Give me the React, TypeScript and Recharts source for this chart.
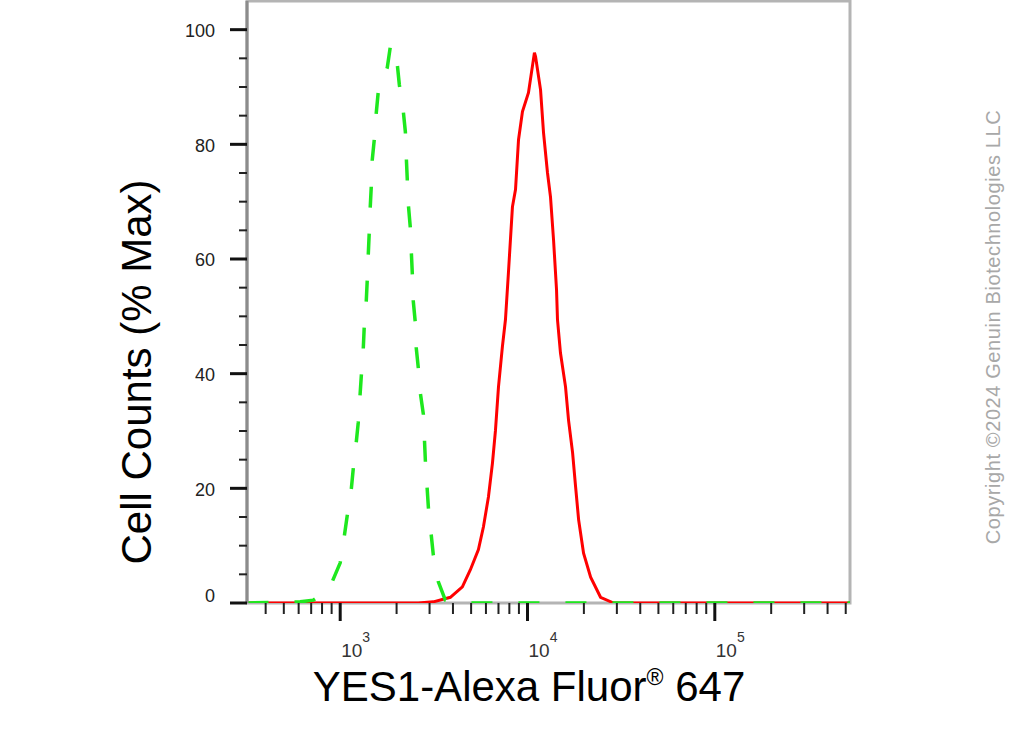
import React from "react";
import { LineChart, Line, XAxis, YAxis, ReferenceArea } from "recharts";

// isotype control (green dashed)
const isotypeFL = [
  320, 611, 718, 832, 906, 1000, 1050, 1090, 1145, 1174, 1218, 1248, 1295, 1328, 1343,
  1377, 1394, 1412, 1429, 1446, 1465, 1483, 1520, 1558, 1597, 1784, 1850, 1897, 2018, 2069,
  2173, 2228, 2254, 2280, 2311, 2366, 2400, 2427, 2455, 2518, 2547, 2612, 2679, 2780, 2851,
  2958, 3141, 3342, 3641, 4121, 10000, 100000, 527000
];
const isotypeCount = [
  0, 0.2, 0.5, 1.9, 3.7, 7.0, 11.5, 15.2, 19.7, 23.4, 28.0, 31.4, 39.4, 44.3, 48.0,
  52.5, 56.2, 60.7, 64.6, 68.9, 72.6, 77.3, 80.8, 85.5, 89.2, 93.4, 96.9, 97.4, 93.9, 90.4,
  85.7, 82.2, 77.7, 74.0, 69.5, 65.6, 60.9, 57.4, 52.7, 48.9, 44.5, 41.0, 36.6, 32.9, 24.6,
  16.6, 8.4, 3.7, 0.5, 0, 0, 0, 0
];

// YES1 stained (red solid)
const stainedFL = [
  320, 2612, 3142, 3874, 4490, 4955, 5470, 5819, 6186, 6500, 6745, 7000, 7345, 7625, 7910,
  8310, 8630, 8955, 9400, 10120, 10890, 11040, 11740, 12180, 12790, 13270, 13770, 14290, 14460,
  15000, 15960, 16560, 17410, 18070, 18750, 19920, 21730, 24550, 28840, 527000
];
const stainedCount = [
  0, 0, 0.2, 1.0, 2.8, 5.8, 9.3, 13.3, 18.5, 24.4, 30.1, 37.7, 44.7, 49.4, 57.6,
  69.1, 72.1, 80.8, 85.7, 89.0, 96.0, 95.3, 89.5, 82.0, 75.0, 70.8, 63.4, 54.6, 49.4,
  43.6, 37.7, 31.9, 26.2, 20.2, 14.5, 8.7, 4.5, 1.0, 0, 0
];

const xMajorTicks = [1000, 10000, 100000];
const xMinorTicks = [
  400, 500, 600, 700, 800, 900,
  2000, 3000, 4000, 5000, 6000, 7000, 8000, 9000,
  20000, 30000, 40000, 50000, 60000, 70000, 80000, 90000,
  200000, 300000, 400000, 500000
];
const yMajorTicks = [0, 20, 40, 60, 80, 100];
const yMinorTicks = [5, 10, 15, 25, 30, 35, 45, 50, 55, 65, 70, 75, 85, 90, 95];

const isotypeData = isotypeFL.map((fl, i) => ({ fl, count: isotypeCount[i] }));
const stainedData = stainedFL.map((fl, i) => ({ fl, count: stainedCount[i] }));
const xTicks = [...xMajorTicks, ...xMinorTicks].sort((a, b) => a - b);
const yTicks = [...yMajorTicks, ...yMinorTicks].sort((a, b) => a - b);

const font = "'Liberation Sans', Arial, sans-serif";

function XTick(props: any) {
  const { x, y, payload } = props;
  const major = xMajorTicks.includes(payload.value);
  const exp = Math.round(Math.log10(payload.value));
  return (
    <g>
      {major ? (
        <line x1={x} x2={x} y1={y} y2={y + 18} stroke="#111" strokeWidth={3} />
      ) : (
        <line x1={x} x2={x} y1={y} y2={y + 11} stroke="#222" strokeWidth={2} />
      )}
      {major && (
        <text x={x + 1} y={y + 54} fontFamily={font} fontSize={19} fill="#333">
          10
          <tspan fontSize={14} dy={-15}>{exp}</tspan>
        </text>
      )}
    </g>
  );
}

function YTick(props: any) {
  const { x, y, payload } = props;
  const major = yMajorTicks.includes(payload.value);
  return (
    <g>
      {major ? (
        <line x1={x - 17} x2={x} y1={y} y2={y} stroke="#111" strokeWidth={3} />
      ) : (
        <line x1={x - 8} x2={x} y1={y} y2={y} stroke="#222" strokeWidth={2} />
      )}
      {major && (
        <text
          x={x - 32}
          y={payload.value === 0 ? y - 7 : y + 1}
          dy="0.35em"
          textAnchor="end"
          fontFamily={font}
          fontSize={18}
          fill="#222"
        >
          {payload.value}
        </text>
      )}
    </g>
  );
}

export default function App() {
  return (
    <div style={{ position: "relative", width: 1025, height: 730, background: "#fff" }}>
      <style>{`body{margin:0}`}</style>
      <div style={{ position: "absolute", left: 0, top: 0 }}>
        <LineChart width={1025} height={730} margin={{ top: 1, right: 175, bottom: 0, left: 0 }}>
          <ReferenceArea
            x1={318}
            x2={527000}
            y1={0}
            y2={105}
            fill="none"
            stroke="#b4b4b4"
            strokeWidth={3}
          />
          <XAxis
            dataKey="fl"
            type="number"
            scale="log"
            domain={[318, 527000]}
            allowDataOverflow
            ticks={xTicks}
            interval={0}
            tickSize={0}
            tickMargin={0}
            tickLine={false}
            tick={(p: any) => <XTick {...p} />}
            axisLine={false}
            height={127}
          />
          <YAxis
            dataKey="count"
            type="number"
            domain={[0, 105]}
            allowDataOverflow
            ticks={yTicks}
            interval={0}
            tickSize={0}
            tickMargin={0}
            tickLine={false}
            tick={(p: any) => <YTick {...p} />}
            axisLine={{ stroke: "#8c8c8c", strokeWidth: 3 }}
            width={247}
          />
          <Line
            data={stainedData}
            dataKey="count"
            type="linear"
            stroke="#ff0000"
            strokeWidth={3}
            dot={false}
            isAnimationActive={false}
          />
          <Line
            data={isotypeData}
            dataKey="count"
            type="linear"
            stroke="#1ee81e"
            strokeWidth={3.5}
            strokeDasharray="21 26"
            dot={false}
            isAnimationActive={false}
          />
        </LineChart>
      </div>
      <svg
        width={1025}
        height={730}
        style={{ position: "absolute", left: 0, top: 0, pointerEvents: "none" }}
      >
        <text x={529} y={701} textAnchor="middle" fontFamily={font} fontSize={42} fill="#000">
          YES1-Alexa Fluor
          <tspan fontSize={23} dy={-16}>®</tspan>
          <tspan fontSize={42} dy={16}> 647</tspan>
        </text>
        <text
          transform="translate(151,372) rotate(-90)"
          textAnchor="middle"
          fontFamily={font}
          fontSize={42}
          fill="#000"
        >
          Cell Counts (% Max)
        </text>
        <text
          transform="translate(1000,327) rotate(-90)"
          textAnchor="middle"
          fontFamily={font}
          fontSize={20}
          letterSpacing={0.6}
          fill="#a8a8a8"
        >
          Copyright ©2024 Genuin Biotechnologies LLC
        </text>
      </svg>
    </div>
  );
}
